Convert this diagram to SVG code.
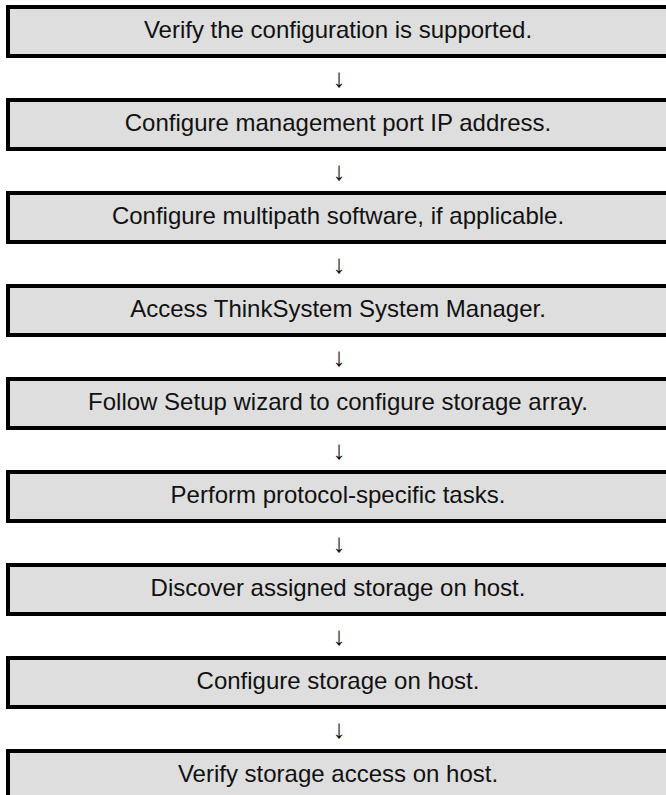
<svg xmlns="http://www.w3.org/2000/svg" width="666" height="795" viewBox="0 0 666 795">
<style>
.box{fill:#dedede;stroke:#000;stroke-width:4}
.lbl{font-family:"Liberation Sans",Arial,sans-serif;font-size:24px;fill:#111;text-anchor:middle}
.arr{font-family:"Liberation Sans",Arial,sans-serif;font-size:26px;fill:#111;text-anchor:middle}
</style>
<rect width="666" height="795" fill="#fff"/>
<g id="n1"><rect class="box" x="8" y="7" width="700" height="49"/><text class="lbl" x="338" y="37.5">Verify the configuration is supported.</text></g>
<g id="n2"><rect class="box" x="8" y="100" width="700" height="49"/><text class="lbl" x="338" y="130.5">Configure management port IP address.</text></g>
<g id="n3"><rect class="box" x="8" y="193" width="700" height="49"/><text class="lbl" x="338" y="223.5">Configure multipath software, if applicable.</text></g>
<g id="n4"><rect class="box" x="8" y="286" width="700" height="49"/><text class="lbl" x="338" y="316.5">Access ThinkSystem System Manager.</text></g>
<g id="n5"><rect class="box" x="8" y="379" width="700" height="49"/><text class="lbl" x="338" y="409.5">Follow Setup wizard to configure storage array.</text></g>
<g id="n6"><rect class="box" x="8" y="472" width="700" height="49"/><text class="lbl" x="338" y="502.5">Perform protocol-specific tasks.</text></g>
<g id="n7"><rect class="box" x="8" y="565" width="700" height="49"/><text class="lbl" x="338" y="595.5">Discover assigned storage on host.</text></g>
<g id="n8"><rect class="box" x="8" y="658" width="700" height="49"/><text class="lbl" x="338" y="688.5">Configure storage on host.</text></g>
<g id="n9"><rect class="box" x="8" y="751" width="700" height="100"/><text class="lbl" x="338" y="781.5">Verify storage access on host.</text></g>
<g id="connectors">
<text class="arr" x="339" y="86.5">↓</text>
<text class="arr" x="339" y="179.5">↓</text>
<text class="arr" x="339" y="272.5">↓</text>
<text class="arr" x="339" y="365.5">↓</text>
<text class="arr" x="339" y="458.5">↓</text>
<text class="arr" x="339" y="551.5">↓</text>
<text class="arr" x="339" y="644.5">↓</text>
<text class="arr" x="339" y="737.5">↓</text>
</g>
</svg>
